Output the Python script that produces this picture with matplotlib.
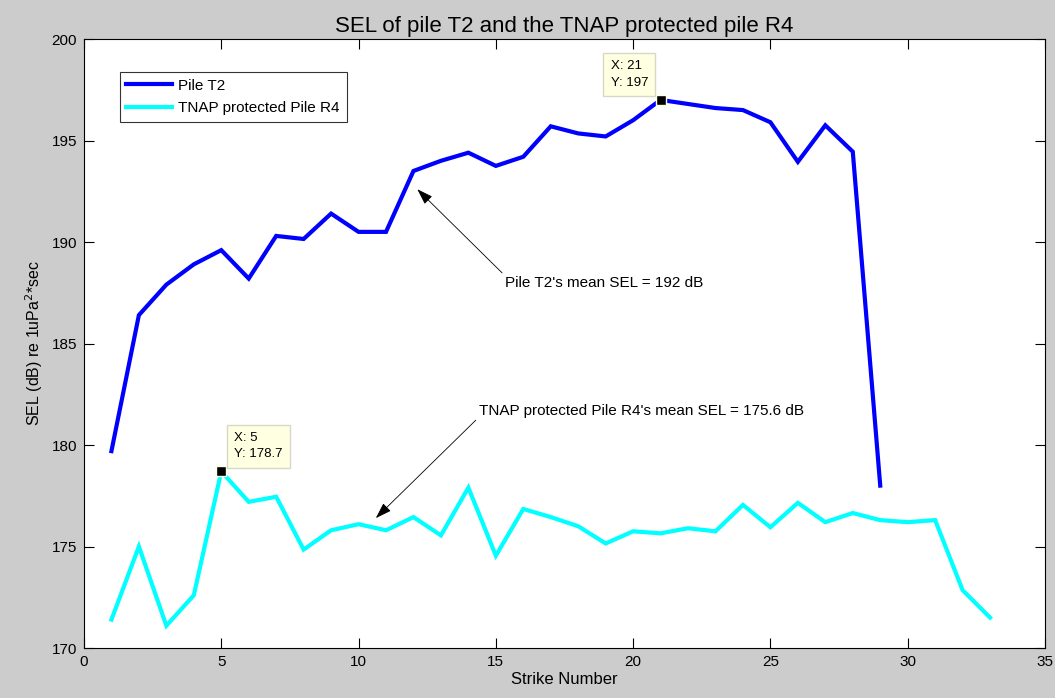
import numpy as np
import matplotlib
matplotlib.use('Agg')
import matplotlib.pyplot as plt

plt.rcParams['font.family'] = ['Liberation Sans', 'DejaVu Sans']

# ─────────────────────────────────────────────
# SEL per strike (dB re 1uPa^2*sec)
# ─────────────────────────────────────────────
strikes_t2 = np.arange(1, 30)
sel_t2 = [179.7, 186.4, 187.9, 188.9, 189.6, 188.2, 190.3, 190.15, 191.4, 190.5,
          190.5, 193.5, 194.0, 194.4, 193.75, 194.2, 195.7, 195.35, 195.2, 196.0,
          197.0, 196.8, 196.6, 196.5, 195.9, 193.95, 195.75, 194.45, 178.0]

strikes_r4 = np.arange(1, 34)
sel_r4 = [171.4, 175.0, 171.1, 172.6, 178.7, 177.2, 177.45, 174.85, 175.8, 176.1,
          175.8, 176.45, 175.55, 177.9, 174.55, 176.85, 176.45, 176.0, 175.15, 175.75,
          175.65, 175.9, 175.75, 177.05, 175.95, 177.15, 176.2, 176.65, 176.3, 176.2,
          176.3, 172.85, 171.5]

mean_t2 = 192
mean_r4 = 175.6

XTICKS = np.arange(0, 36, 5)
YTICKS = np.arange(170, 201, 5)

# ─────────────────────────────────────────────
# Figure (MATLAB-like look)
# ─────────────────────────────────────────────
fig = plt.figure(figsize=(10.55, 6.98), dpi=100, facecolor='#cccccc')
ax = fig.add_axes([0.0796, 0.0716, 0.9109, 0.8725])
ax.set_facecolor('white')

ax.plot(strikes_t2, sel_t2, color='#0000ff', lw=3, label='Pile T2',
        solid_joinstyle='miter')
ax.plot(strikes_r4, sel_r4, color='#00ffff', lw=3, label='TNAP protected Pile R4',
        solid_joinstyle='miter')

ax.set_xlim(0, 35)
ax.set_ylim(170, 200)
ax.set_xticks(XTICKS)
ax.set_yticks(YTICKS)
ax.tick_params(direction='in', length=7, width=0.8, top=True, right=True,
               labelsize=11, pad=5)
for sp in ax.spines.values():
    sp.set_linewidth(0.8)

ax.set_title('SEL of pile T2 and the TNAP protected pile R4', fontsize=16, pad=5)
ax.set_xlabel('Strike Number', fontsize=12, labelpad=2)
ax.set_ylabel('SEL (dB) re 1uPa$^{2}$*sec', fontsize=11.5, labelpad=5)

leg = ax.legend(loc='upper left', bbox_to_anchor=(0.037, 0.946), fontsize=11,
                frameon=True, fancybox=False, edgecolor='black', borderpad=0.45,
                handlelength=3.0, labelspacing=0.55, handletextpad=0.4,
                borderaxespad=0)
leg.get_frame().set_linewidth(0.8)

# ── data tips ──
def datatip(x, y, dx, dy, ha):
    ax.plot([x], [y], marker='s', ms=7, color='black', mec='#ffffe1', mew=1,
            zorder=5)
    ax.annotate(f'X: {x}\nY: {y:g}', xy=(x, y), xytext=(dx, dy),
                textcoords='offset points', ha=ha, va='bottom', fontsize=9.5,
                multialignment='left', linespacing=1.5,
                bbox=dict(boxstyle='square,pad=0.55', fc='#ffffe1', ec='#d8d8c8',
                          lw=1), zorder=6)

i21 = list(strikes_t2).index(21)
datatip(21, sel_t2[i21], -9, 8, 'right')
i5 = list(strikes_r4).index(5)
datatip(5, sel_r4[i5], 9, 8, 'left')

# ── mean SEL callouts ──
arrow = dict(arrowstyle='-|>,head_length=0.9,head_width=0.3', color='black',
             lw=0.6, shrinkA=0, shrinkB=0)
ax.annotate(f"Pile T2's mean SEL = {mean_t2} dB", xy=(12.14, 192.6),
            xytext=(15.33, 188.0), ha='left', va='center', fontsize=11,
            arrowprops=dict(arrow, relpos=(0, 1)))
ax.annotate(f"TNAP protected Pile R4's mean SEL = {mean_r4} dB", xy=(10.63, 176.4),
            xytext=(14.37, 181.7), ha='left', va='center', fontsize=11,
            arrowprops=dict(arrow, relpos=(0, 0)))

fig.savefig('out.png', dpi=100, facecolor=fig.get_facecolor())
